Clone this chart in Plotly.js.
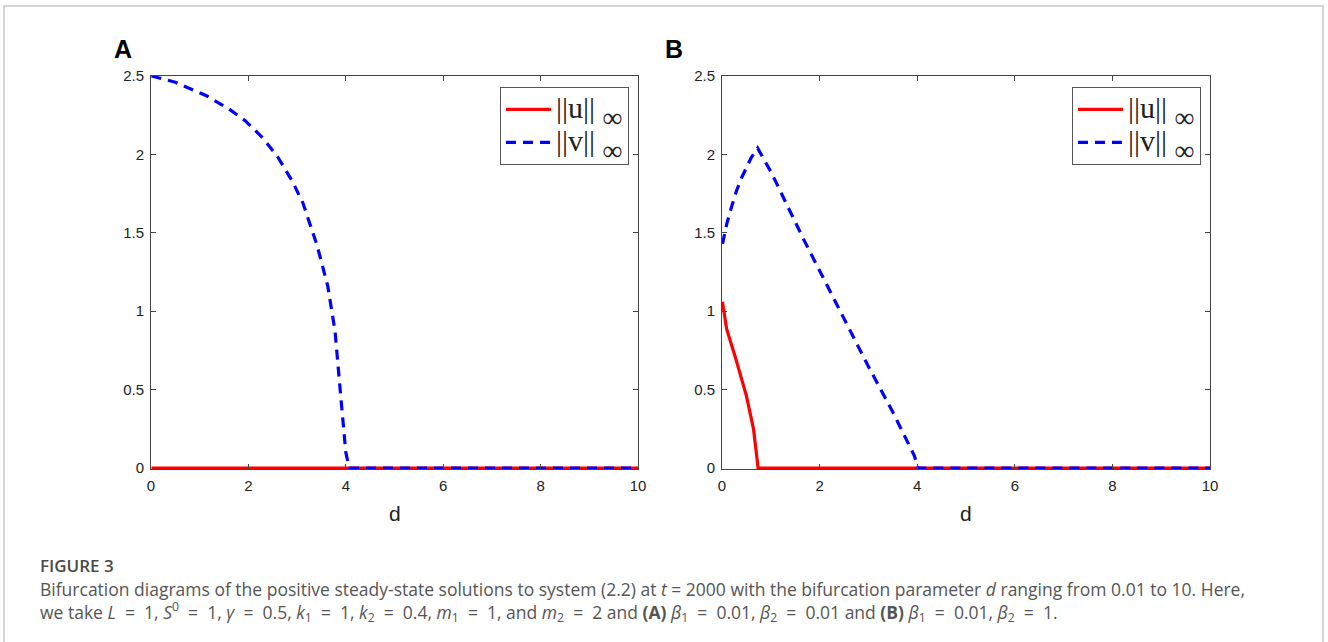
<!DOCTYPE html>
<html>
<head>
<meta charset="utf-8">
<script src="https://cdn.plot.ly/plotly-3.0.1.min.js"></script>
<style>html,body{margin:0;padding:0;background:#fff;}#chart{width:1328px;height:642px;}</style>
</head>
<body>
<div id="chart"></div>
<script>
// Panel A: beta1 = 0.01, beta2 = 0.01
const dA_u = [0.01, 10];
const uA   = [0, 0];
const dA_v = [0.01, 0.5, 1.14, 1.6, 1.94, 2.31, 2.61, 2.9, 3.12, 3.41, 3.63, 3.78, 3.89, 4.0, 4.07, 10];
const vA   = [2.5, 2.46, 2.374, 2.29, 2.214, 2.10, 1.98, 1.83, 1.69, 1.42, 1.16, 0.87, 0.48, 0.10, 0, 0];

// Panel B: beta1 = 0.01, beta2 = 1
const dB_u = [0.01, 0.095, 0.28, 0.5, 0.645, 0.74, 10];
const uB   = [1.06, 0.887, 0.70, 0.46, 0.25, 0, 0];
const dB_v = [0.01, 0.1, 0.2, 0.3, 0.4, 0.5, 0.6, 0.73, 1.01, 1.67, 2.33, 2.99, 3.5, 3.94, 4.02, 10];
const vB   = [1.43, 1.56, 1.67, 1.77, 1.85, 1.92, 1.98, 2.04, 1.885, 1.46, 1.057, 0.654, 0.357, 0.08, 0, 0];

const xTicks = [0, 2, 4, 6, 8, 10];
const yTicks = [0, 0.5, 1, 1.5, 2, 2.5];
const yTickText = ['0', '0.5', '1', '1.5', '2', '2.5'];
const uName = '<span style="font-size:30px">||u||\u00a0</span><sub><span style="font-size:28px;baseline-shift:-4px">∞</span></sub>';
const vName = '<span style="font-size:30px">||v||\u00a0</span><sub><span style="font-size:28px;baseline-shift:-4px">∞</span></sub>';

const W = 1328, H = 642;
const px = v => v / W;
const py = v => 1 - v / H;

const red = '#ff0000', blue = '#0000ff';
const lw = 3.2;
const dashPat = '10px,7px';

const traces = [
  {x: dA_u, y: uA, mode: 'lines', name: uName, line: {color: red, width: lw}, xaxis: 'x', yaxis: 'y', legend: 'legend'},
  {x: dA_v, y: vA, mode: 'lines', name: vName, line: {color: blue, width: lw, dash: dashPat}, xaxis: 'x', yaxis: 'y', legend: 'legend'},
  {x: dB_u, y: uB, mode: 'lines', name: uName, line: {color: red, width: lw}, xaxis: 'x2', yaxis: 'y2', legend: 'legend2'},
  {x: dB_v, y: vB, mode: 'lines', name: vName, line: {color: blue, width: lw, dash: dashPat}, xaxis: 'x2', yaxis: 'y2', legend: 'legend2'}
];

const axCommon = {
  showline: true, linecolor: '#444', linewidth: 1, mirror: 'allticks',
  ticks: 'inside', ticklen: 5, tickcolor: '#444', tickwidth: 1,
  showgrid: false, zeroline: false, fixedrange: true,
  tickfont: {family: 'Liberation Sans, Arial, sans-serif', size: 15, color: '#222'}
};
const xax = (dom, anchor) => Object.assign({}, axCommon, {domain: dom, anchor: anchor, range: [0, 10],
  tickvals: xTicks, ticktext: xTicks.map(String), ticklabelstandoff: 3});
const yax = (anchor) => Object.assign({}, axCommon, {domain: [py(469), py(76)], anchor: anchor, range: [-0.006, 2.5],
  tickvals: yTicks, ticktext: yTickText, ticklabelstandoff: 3});

const legendCommon = {
  bgcolor: '#fff', bordercolor: '#555', borderwidth: 1,
  font: {family: 'Liberation Serif, Times New Roman, serif', size: 23, color: '#222'},
  xanchor: 'right', yanchor: 'top', itemwidth: 45, tracegroupgap: 0
};

const capFont = {family: 'Open Sans, sans-serif', size: 17.5, color: '#555'};
const eq = '\u00a0 = \u00a0';
const capLine1 = 'Bifurcation diagrams of the positive steady-state solutions to system (2.2) at <i>t</i> = 2000 with the bifurcation parameter <i>d</i> ranging from 0.01 to 10. Here,';
const capLine2 = 'we take <i>L</i>' + eq + '1, <i>S</i><sup>0</sup>' + eq + '1, <i>γ</i>' + eq + '0.5, <i>k</i><sub>1</sub>' + eq + '1, <i>k</i><sub>2</sub>' + eq + '0.4, <i>m</i><sub>1</sub>' + eq + '1, and <i>m</i><sub>2</sub>' + eq + '2 and <b>(A)</b> <i>β</i><sub>1</sub>' + eq + '0.01, <i>β</i><sub>2</sub>' + eq + '0.01 and <b>(B)</b> <i>β</i><sub>1</sub>' + eq + '0.01, <i>β</i><sub>2</sub>' + eq + '1.';

const panelFont = {family: 'Liberation Sans, Arial, sans-serif', size: 25, color: '#000'};
const dFont = {family: 'Liberation Sans, Arial, sans-serif', size: 21, color: '#222'};

const layout = {
  width: W, height: H,
  margin: {l: 0, r: 0, t: 0, b: 0},
  paper_bgcolor: '#fff', plot_bgcolor: '#fff',
  showlegend: true,
  xaxis: xax([px(151), px(638)], 'y'),
  yaxis: yax('x'),
  xaxis2: xax([px(722), px(1210)], 'y2'),
  yaxis2: yax('x2'),
  legend: Object.assign({}, legendCommon, {x: px(629), y: py(87)}),
  legend2: Object.assign({}, legendCommon, {x: px(1201), y: py(87)}),
  shapes: [
    {type: 'rect', xref: 'paper', yref: 'paper', x0: px(4), x1: px(1323), y0: py(660), y1: py(6),
     line: {color: '#d4d4d4', width: 2}, fillcolor: 'rgba(0,0,0,0)', layer: 'below'}
  ],
  annotations: [
    {text: '<b>A</b>', xref: 'paper', yref: 'paper', x: px(122.5), y: py(49), showarrow: false, xanchor: 'center', yanchor: 'middle', font: panelFont},
    {text: '<b>B</b>', xref: 'paper', yref: 'paper', x: px(674), y: py(49), showarrow: false, xanchor: 'center', yanchor: 'middle', font: panelFont},
    {text: 'd', xref: 'paper', yref: 'paper', x: px(395), y: py(513), showarrow: false, xanchor: 'center', yanchor: 'middle', font: dFont},
    {text: 'd', xref: 'paper', yref: 'paper', x: px(966), y: py(513), showarrow: false, xanchor: 'center', yanchor: 'middle', font: dFont},
    {text: 'FIGURE 3', xref: 'paper', yref: 'paper', x: px(39), y: py(565), showarrow: false, xanchor: 'left', yanchor: 'middle', borderpad: 0,
     font: {family: 'Open Sans, sans-serif', size: 17, color: '#4a4a4a', weight: 600}},
    {text: capLine1 + '<br>' + capLine2, align: 'left', borderpad: 0,
     xref: 'paper', yref: 'paper', x: px(39), y: py(576), showarrow: false, xanchor: 'left', yanchor: 'top', font: capFont}
  ]
};

Plotly.newPlot('chart', traces, layout, {displayModeBar: false, staticPlot: true});
</script>
</body>
</html>
